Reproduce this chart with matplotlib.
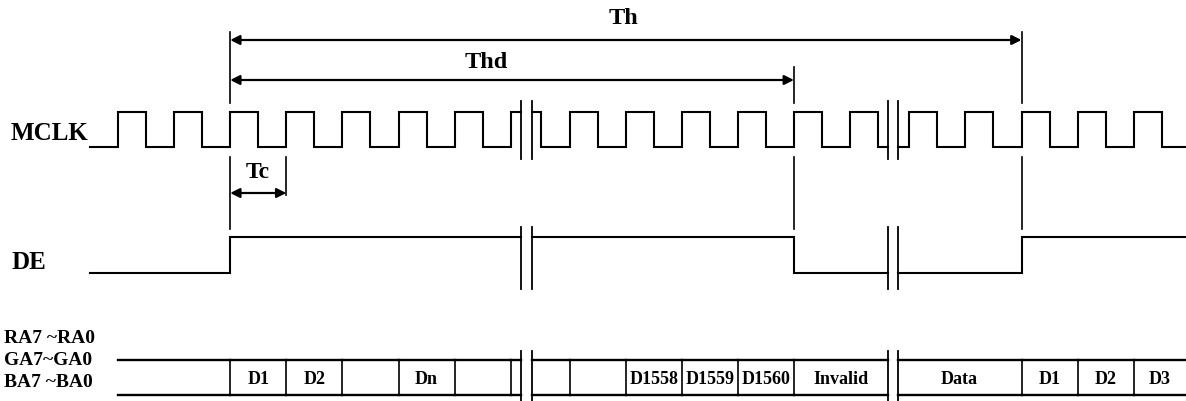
import matplotlib
matplotlib.use("Agg")
import matplotlib.pyplot as plt
import numpy as np

# --- timing data (x axis = time, drawn in picture units) ---
clk_period = 56.1
seg_start = [90, 531.5, 897.5]        # each broken piece of the time axis
seg_end = [520.5, 887.5, 1186]
seg_first_rise = [118, 569.5, 909.3]  # first MCLK rising edge in every piece
break_x = [(520.5, 531.5), (887.5, 897.5)]

# DE level per piece: (level at piece start, cycle index where it toggles)
de_start_level = [0, 1, 0]
de_toggle_cycle = [2, 4, 2]

# data bus cells: (piece, start cycle, end cycle, label); None = piece edge
bus_cells = [
    (0, 0, 2, ""), (0, 2, 3, "D1"), (0, 3, 4, "D2"), (0, 4, 5, ""),
    (0, 5, 6, "Dn"), (0, 6, 7, ""), (0, 7, None, ""),
    (1, None, 0, ""), (1, 0, 1, ""), (1, 1, 2, "D1558"), (1, 2, 3, "D1559"),
    (1, 3, 4, "D1560"), (1, 4, None, "Invalid"),
    (2, None, 2, "Data"), (2, 2, 3, "D1"), (2, 3, 4, "D2"), (2, 4, None, "D3"),
]

# interval markers: (piece, cycle) from -> (piece, cycle) to
markers = {
    "Th": ((0, 2), (2, 2)),
    "Thd": ((0, 2), (1, 4)),
    "Tc": ((0, 2), (0, 3)),
}

signal_labels = ["MCLK", "DE"]
bus_labels = ["RA7 ~RA0", "GA7~GA0", "BA7 ~BA0"]

FONT = "Liberation Serif"
CLK_HI, CLK_LO = 113, 148
DE_HI, DE_LO = 238, 274
BUS_TOP, BUS_BOT = 361, 396


def cyc(piece, c):
    if c is None:
        return None
    return seg_first_rise[piece] + c * clk_period


def clock_wave(s, e, r, p):
    half = p / 2
    k = int(np.floor((s - r) / half)) + 1
    edges = []
    while r + k * half < e:
        edges.append(r + k * half)
        k += 1
    level = 1 if ((s - r) % p) < half else 0
    xs, ys = [s], [level]
    for ed in edges:
        xs += [ed, ed]
        ys += [level, 1 - level]
        level = 1 - level
    xs.append(e)
    ys.append(level)
    return np.array(xs), np.array(ys)


fig = plt.figure(figsize=(11.86, 4.02), dpi=100)
ax = fig.add_axes([0, 0, 1, 1])
ax.set_xlim(0, 1186)
ax.set_ylim(402, 0)
ax.axis("off")

lw = 1.5

# MCLK
for i in range(3):
    xs, ys = clock_wave(seg_start[i], seg_end[i], seg_first_rise[i], clk_period)
    ax.plot(xs, np.where(ys == 1, CLK_HI, CLK_LO), color="black", lw=lw,
            solid_joinstyle="miter")

# DE
for i in range(3):
    t = cyc(i, de_toggle_cycle[i])
    lv = de_start_level[i]
    y0 = DE_HI if lv else DE_LO
    y1 = DE_LO if lv else DE_HI
    ax.plot([seg_start[i], t, t, seg_end[i]], [y0, y0, y1, y1],
            color="black", lw=lw, solid_joinstyle="miter")

# bus
for piece, c0, c1, label in bus_cells:
    x0 = cyc(piece, c0)
    x1 = cyc(piece, c1)
    if x0 is None:
        x0 = seg_start[piece]
    if x1 is None:
        x1 = seg_end[piece]
    ax.plot([x0, x1], [BUS_TOP, BUS_TOP], color="black", lw=1.7)
    ax.plot([x0, x1], [BUS_BOT, BUS_BOT], color="black", lw=1.7)
    if c0 is not None and not (piece == 0 and c0 == 0):
        ax.plot([x0, x0], [BUS_TOP, BUS_BOT], color="black", lw=1.2)
    if label:
        ax.text((x0 + x1) / 2, 380, label, ha="center", va="center",
                fontfamily=FONT, fontweight="bold", fontsize=13)

# break marks
for bx in break_x:
    for x in bx:
        ax.plot([x, x], [102, 160], color="black", lw=1.3)
        ax.plot([x, x], [228, 290], color="black", lw=1.3)
        ax.plot([x, x], [352, 402], color="black", lw=1.3)

# marker verticals
x_start = cyc(*markers["Th"][0])
x_th = cyc(*markers["Th"][1])
x_thd = cyc(*markers["Thd"][1])
x_tc = cyc(*markers["Tc"][1])
for x, top in [(x_start, 33), (x_th, 33), (x_thd, 68)]:
    ax.plot([x, x], [top, 104], color="black", lw=1.2)
    ax.plot([x, x], [158, 230], color="black", lw=1.2)
ax.plot([x_tc, x_tc], [158, 196], color="black", lw=1.2)

arrow = dict(arrowstyle="<|-|>", color="black", lw=1.6, mutation_scale=14,
             shrinkA=0, shrinkB=0)
ax.annotate("", xy=(x_th, 41), xytext=(x_start, 41), arrowprops=arrow)
ax.annotate("", xy=(x_thd, 81), xytext=(x_start, 81), arrowprops=arrow)
ax.annotate("", xy=(x_tc, 194), xytext=(x_start, 194), arrowprops=arrow)

ax.text(623, 18, "Th", ha="center", va="center", fontfamily=FONT,
        fontweight="bold", fontsize=17.5)
ax.text(486, 62, "Thd", ha="center", va="center", fontfamily=FONT,
        fontweight="bold", fontsize=17.5)
ax.text(258, 173, "Tc", ha="center", va="center", fontfamily=FONT,
        fontweight="bold", fontsize=17)

# signal names
ax.text(11, 134, signal_labels[0], ha="left", va="center", fontfamily=FONT,
        fontweight="bold", fontsize=18)
ax.text(11, 263, signal_labels[1], ha="left", va="center", fontfamily=FONT,
        fontweight="bold", fontsize=18)
for lab, y in zip(bus_labels, [339, 361, 383]):
    ax.text(4, y, lab, ha="left", va="center", fontfamily=FONT,
            fontweight="bold", fontsize=14)

fig.savefig("out.png", dpi=100)
